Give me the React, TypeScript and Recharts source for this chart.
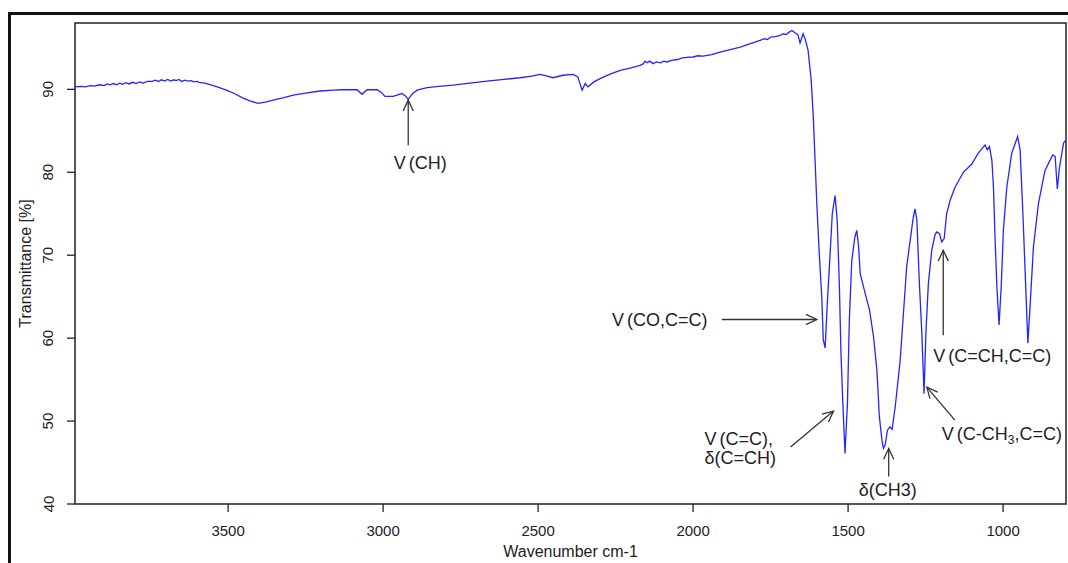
import { LineChart, Line, XAxis, YAxis, ReferenceArea, ReferenceDot, Label } from 'recharts';

// IR spectrum as [wavenumber cm-1, transmittance %] pairs, high to low wavenumber
const highRange: [number, number][] = [
  [3994, 90.3], [3975, 90.35], [3960, 90.3], [3945, 90.45], [3930, 90.4], [3915, 90.55],
  [3900, 90.45], [3890, 90.65], [3881, 90.55], [3870, 90.7], [3860, 90.55], [3850, 90.75],
  [3840, 90.6], [3830, 90.8], [3820, 90.65], [3808, 90.85], [3797, 90.7], [3785, 90.9],
  [3775, 90.75], [3760, 90.95], [3745, 90.95], [3735, 91.1], [3725, 90.95], [3715, 91.15],
  [3705, 91.0], [3695, 91.2], [3685, 91.0], [3675, 91.15], [3668, 91.05], [3658, 91.2],
  [3650, 90.95], [3640, 91.1], [3630, 91.0], [3620, 91.05], [3610, 90.9], [3600, 90.95],
  [3594, 90.85], [3575, 90.75], [3561, 90.6], [3535, 90.3], [3506, 89.9], [3480, 89.5],
  [3455, 89.0], [3430, 88.6], [3403, 88.3], [3380, 88.45], [3355, 88.7], [3320, 89.0],
  [3290, 89.3], [3250, 89.55], [3203, 89.8], [3160, 89.9], [3129, 89.95], [3084, 89.95],
  [3068, 89.4], [3052, 89.95], [3019, 89.95], [3005, 89.6], [2994, 89.15], [2968, 89.15],
  [2950, 89.35], [2939, 89.5], [2928, 89.2], [2919, 88.8], [2905, 89.5], [2890, 89.9],
  [2858, 90.2], [2820, 90.35], [2774, 90.5], [2720, 90.75], [2665, 91.0], [2610, 91.2],
  [2558, 91.4], [2520, 91.6], [2494, 91.8], [2470, 91.6], [2452, 91.4], [2420, 91.7],
  [2387, 91.8], [2372, 91.5], [2358, 89.9], [2348, 90.7], [2339, 90.3], [2320, 90.9],
  [2300, 91.3], [2270, 91.8], [2235, 92.3], [2200, 92.6], [2171, 92.9], [2160, 93.1],
  [2155, 93.4], [2148, 93.2], [2140, 93.4], [2129, 93.1], [2118, 93.3], [2105, 93.2],
  [2095, 93.4], [2084, 93.3], [2070, 93.5], [2050, 93.6], [2035, 93.8], [2019, 93.85],
  [2000, 93.9], [1985, 94.05], [1968, 94.0], [1940, 94.2], [1913, 94.5], [1880, 94.8],
  [1848, 95.1], [1815, 95.5], [1784, 95.9], [1770, 96.1], [1760, 96.0], [1750, 96.3],
  [1735, 96.35], [1719, 96.5], [1710, 96.7], [1700, 96.6], [1690, 96.9], [1681, 97.1],
];

const fingerprint: [number, number][] = [
  [1670, 96.8], [1662, 96.6], [1655, 95.6], [1645, 96.7], [1638, 96.0], [1629, 94.7],
  [1619, 91.1], [1612, 86.5], [1606, 81.0], [1601, 76.3], [1593, 70.2], [1585, 65.0],
  [1580, 59.8], [1574, 58.8], [1567, 64.2], [1558, 70.2], [1551, 75.0], [1542, 77.2],
  [1535, 74.2], [1528, 66.2], [1523, 58.2], [1517, 52.2], [1510, 46.1], [1502, 52.2],
  [1496, 62.2], [1488, 69.4], [1478, 72.2], [1472, 73.0], [1466, 71.0], [1461, 67.8],
  [1445, 65.4], [1431, 63.4], [1418, 60.2], [1407, 56.1], [1399, 50.5], [1390, 47.5],
  [1386, 46.7], [1380, 47.2], [1373, 48.9], [1365, 49.3], [1358, 49.0], [1348, 51.7],
  [1332, 57.3], [1311, 68.6], [1290, 74.5], [1284, 75.6], [1278, 74.2], [1270, 66.6],
  [1262, 60.6], [1255, 53.3], [1249, 60.6], [1241, 66.6], [1230, 70.6], [1220, 72.4],
  [1214, 72.8], [1205, 72.6], [1198, 71.6], [1190, 72.0], [1182, 75.0], [1171, 76.6],
  [1155, 78.2], [1128, 80.0], [1101, 81.0], [1080, 82.3], [1058, 83.3], [1051, 82.7],
  [1044, 83.1], [1036, 81.4], [1031, 78.2], [1026, 72.2], [1020, 66.2], [1013, 61.6],
  [1006, 66.2], [999, 73.0], [988, 78.2], [972, 82.3], [953, 84.3], [945, 82.7],
  [936, 75.0], [929, 68.2], [920, 59.4], [913, 63.8], [902, 71.0], [886, 76.2],
  [865, 80.2], [840, 82.1], [832, 81.9], [825, 78.0], [818, 80.6], [805, 83.5], [800, 83.8],
];

const xTicks = [3500, 3000, 2500, 2000, 1500, 1000];
const yTicks = [40, 50, 60, 70, 80, 90];

// band assignments: text lines (segments, "sub" = subscript, "gap" = small kern before) and the band they point at
type Seg = { t: string; sub?: boolean; gap?: boolean };
const bandLabels: { lines: Seg[][]; wn: number; t: number }[] = [
  { lines: [[{ t: 'V' }, { t: '(CH)', gap: true }]], wn: 2919, t: 88.7 },
  { lines: [[{ t: 'V' }, { t: '(CO,C=C)', gap: true }]], wn: 1601, t: 62.25 },
  { lines: [[{ t: 'V' }, { t: '(C=C),', gap: true }], [{ t: 'δ(C=CH)' }]], wn: 1547, t: 51.2 },
  { lines: [[{ t: 'δ(CH3)' }]], wn: 1369, t: 46.7 },
  { lines: [[{ t: 'V' }, { t: '(C=CH,C=C)', gap: true }]], wn: 1193, t: 70.6 },
  { lines: [[{ t: 'V' }, { t: '(C-CH', gap: true }, { t: '3', sub: true }, { t: ',C=C)' }]], wn: 1246, t: 54.1 },
];

// arrow tail and text anchor, in px relative to the arrow tip
const labelLayout = [
  { tail: [0, 45], text: [12, 69], anchor: 'middle' },
  { tail: [-95, 0], text: [-157, 7], anchor: 'middle' },
  { tail: [-43, 36], text: [-129, 34], anchor: 'start' },
  { tail: [0, 28], text: [-1, 48], anchor: 'middle' },
  { tail: [0, 85], text: [49, 112], anchor: 'middle' },
  { tail: [28, 33], text: [75, 53], anchor: 'middle' },
];

const data = [...highRange, ...fingerprint].map(([wn, t]) => ({ wn, t }));

const FONT = '"Liberation Sans", Arial, sans-serif';
const INK = '#222';
const X_DOMAIN: [number, number] = [797, 3994];
const Y_DOMAIN: [number, number] = [40, 98];

function Arrow({ x1, y1, x2, y2 }: { x1: number; y1: number; x2: number; y2: number }) {
  const a = Math.atan2(y2 - y1, x2 - x1);
  const len = 12;
  const spread = (25 * Math.PI) / 180;
  const h1 = [x2 - len * Math.cos(a - spread), y2 - len * Math.sin(a - spread)];
  const h2 = [x2 - len * Math.cos(a + spread), y2 - len * Math.sin(a + spread)];
  return (
    <g stroke="#333" strokeWidth={1.3} fill="none">
      <line x1={x1} y1={y1} x2={x2} y2={y2} />
      <polyline points={`${h1[0]},${h1[1]} ${x2},${y2} ${h2[0]},${h2[1]}`} />
    </g>
  );
}

function bandShape(i: number) {
  return (p: any) => {
    const { cx, cy } = p;
    const lay = labelLayout[i];
    const lab = bandLabels[i];
    return (
      <g>
        <Arrow x1={cx + lay.tail[0]} y1={cy + lay.tail[1]} x2={cx} y2={cy} />
        {lab.lines.map((segs, li) => (
          <text
            key={li}
            x={cx + lay.text[0]}
            y={cy + lay.text[1] + li * 19}
            textAnchor={lay.anchor}
            fontFamily={FONT}
            fontSize={18}
            fill={INK}
          >
            {segs.map((s, si) =>
              s.sub ? (
                <tspan key={si} fontSize={12} dy={4}>{s.t}</tspan>
              ) : (
                <tspan
                  key={si}
                  dx={s.gap ? 3 : 0}
                  dy={si > 0 && segs[si - 1].sub ? -4 : 0}
                >
                  {s.t}
                </tspan>
              )
            )}
          </text>
        ))}
      </g>
    );
  };
}

const XTick = (p: any) => (
  <text x={p.x} y={p.y + 24} textAnchor="middle" fontFamily={FONT} fontSize={15} fill={INK}>
    {p.payload.value}
  </text>
);

const YTick = (p: any) => (
  <text
    x={p.x - 13.5}
    y={p.y}
    transform={`rotate(-90, ${p.x - 13.5}, ${p.y})`}
    textAnchor="middle"
    fontFamily={FONT}
    fontSize={15}
    fill={INK}
  >
    {p.payload.value}
  </text>
);

export default function App() {
  return (
    <div
      style={{
        position: 'absolute',
        left: 0,
        top: 0,
        width: 1068,
        height: 563,
        overflow: 'hidden',
        background: '#fff',
      }}
    >
      <div
        style={{
          position: 'absolute',
          left: 8,
          top: 12,
          width: 1120,
          height: 620,
          border: '3px solid #111',
        }}
      />
      <div style={{ position: 'absolute', left: 0, top: 0 }}>
        <LineChart width={1068} height={563} data={data} margin={{ top: 23, right: 2, left: 0, bottom: 0 }}>
          <XAxis
            type="number"
            dataKey="wn"
            domain={X_DOMAIN}
            reversed
            allowDataOverflow
            ticks={xTicks}
            interval={0}
            height={59}
            axisLine={false}
            tickSize={8}
            tickMargin={0}
            tickLine={{ stroke: INK, strokeWidth: 1.3 }}
            tick={XTick}
          >
            <Label
              content={(p: any) => (
                <text
                  x={p.viewBox.x + p.viewBox.width / 2}
                  y={557}
                  textAnchor="middle"
                  fontFamily={FONT}
                  fontSize={16}
                  fill={INK}
                >
                  Wavenumber cm-1
                </text>
              )}
            />
          </XAxis>
          <YAxis
            type="number"
            domain={Y_DOMAIN}
            allowDataOverflow
            ticks={yTicks}
            interval={0}
            width={75}
            axisLine={false}
            tickSize={8}
            tickMargin={0}
            tickLine={{ stroke: INK, strokeWidth: 1.3 }}
            tick={YTick}
          >
            <Label
              content={(p: any) => {
                const cy = p.viewBox.y + p.viewBox.height / 2;
                return (
                  <text
                    x={31}
                    y={cy}
                    transform={`rotate(-90, 31, ${cy})`}
                    textAnchor="middle"
                    fontFamily={FONT}
                    fontSize={16}
                    fill={INK}
                  >
                    Transmittance [%]
                  </text>
                );
              }}
            />
          </YAxis>
          <ReferenceArea
            x1={X_DOMAIN[0]}
            x2={X_DOMAIN[1]}
            y1={Y_DOMAIN[0]}
            y2={Y_DOMAIN[1]}
            fill="none"
            stroke={INK}
            strokeWidth={1.5}
            ifOverflow="visible"
          />
          <Line
            type="linear"
            dataKey="t"
            stroke="#2424ff"
            strokeWidth={1.3}
            dot={false}
            activeDot={false}
            isAnimationActive={false}
          />
          {bandLabels.map((b, i) => (
            <ReferenceDot
              key={i}
              x={b.wn}
              y={b.t}
              r={2}
              ifOverflow="visible"
              shape={bandShape(i)}
            />
          ))}
        </LineChart>
      </div>
    </div>
  );
}
